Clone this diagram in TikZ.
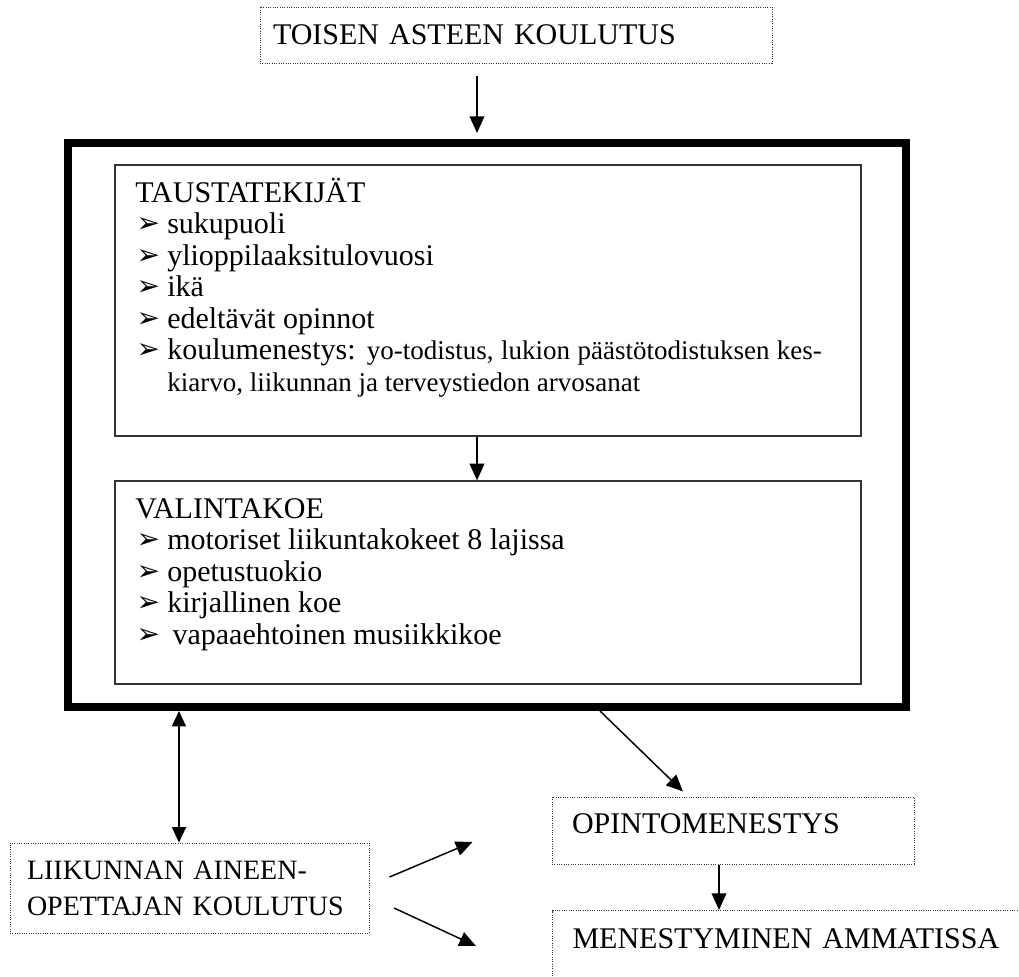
\documentclass[tikz,border=0pt]{standalone}
\usepackage{fontspec}
\setmainfont{Liberation Serif}
\newfontfamily\symfont{DejaVu Sans}
\usetikzlibrary{arrows.meta}
\newcommand\iso{\fontsize{22.5pt}{23.6pt}\selectfont}
\newcommand\pieni{\fontsize{20.25pt}{22pt}\selectfont}
\newcommand\nuoli{\makebox[24pt][l]{\hspace{1pt}\symfont\fontsize{21pt}{21pt}\selectfont\raisebox{0.5pt}{➢}}}

\begin{document}
\begin{tikzpicture}[
x=0.75pt, y=-0.75pt, % pikselit, y kasvaa alaspäin
every node/.style={font=\iso},
pistelaatikko/.style={draw=black!80, line width=0.75pt, dash pattern=on 0.75pt off 1pt, align=left, inner ysep=0pt},
laatikko/.style={draw=black!80, line width=0.9pt},
rivi/.style={anchor=base west, inner sep=0pt},
nuoli/.style={-{Triangle[width=11pt,length=12.5pt]}, line width=1.1pt},
kaksinuoli/.style={{Triangle[width=10.5pt,length=11.5pt]}-{Triangle[width=10.5pt,length=11.5pt]}, line width=1.1pt}
]
\useasboundingbox (0,0) rectangle (1019,976);
\clip (0,0) rectangle (1019,976);

% --- Ylälaatikko ---
\node[pistelaatikko, text width=364.5pt, inner xsep=9.75pt, minimum height=42pt] (toinen) at (516,35) {TOISEN ASTEEN KOULUTUS};

% --- Paksu kehys ja sisälaatikot ---
\node[draw, line width=6pt, minimum width=628.5pt, minimum height=423pt] (ulko) at (487,425) {};
\node[laatikko, minimum width=559.5pt, minimum height=203.25pt] (tausta) at (488,300.5) {};
\node[laatikko, minimum width=559.5pt, minimum height=152.25pt] (valinta) at (488,582.5) {};

% Taustatekijät
\node[rivi] (tausta-otsikko) at (135,202) {TAUSTATEKIJÄT};
\foreach \teksti [count=\i] in {sukupuoli, ylioppilaaksitulovuosi, ikä, edeltävät opinnot}
  \node[rivi] (tausta-\i) at (135,{202+31.5*\i}) {\nuoli\teksti};
\node[rivi] (tausta-5) at (135,359.5) {\nuoli\makebox[491pt][s]{koulumenestys: \pieni yo-todistus, lukion päästötodistuksen kes-}};
\node[rivi, font=\pieni] (tausta-6) at (167,391) {kiarvo, liikunnan ja terveystiedon arvosanat};

% Valintakoe
\node[rivi] (valinta-otsikko) at (135,518) {VALINTAKOE};
\foreach \teksti [count=\i] in {motoriset liikuntakokeet 8 lajissa, opetustuokio, kirjallinen koe, \hspace{4pt}vapaaehtoinen musiikkikoe}
  \node[rivi] (valinta-\i) at (135,{518+31.5*\i}) {\nuoli\teksti};

% --- Alalaatikot ---
\node[pistelaatikko, text width=243.75pt, inner xsep=12.75pt, minimum height=67.5pt, font={\fontsize{21pt}{27pt}\selectfont}] (liik) at (189.5,888) {\mbox{LIIKUNNAN AINEEN-}\\\mbox{OPETTAJAN KOULUTUS}};
\node[pistelaatikko, text width=241.5pt, inner xsep=15pt, minimum height=50.25pt, text depth=9.75pt] (opinto) at (733,830.5) {OPINTOMENESTYS};
\node[pistelaatikko, anchor=north west, text width=360pt, inner xsep=15pt, minimum height=67.5pt, text depth=25.5pt] (menest) at (552,910) {MENESTYMINEN AMMATISSA};

% --- Nuolet ---
\draw[nuoli, shorten <=9pt, shorten >=4.5pt] ([xshift=-29.25pt]toinen.south) -- ([xshift=-29.25pt]toinen.south |- ulko.north);
\draw[nuoli] ([xshift=-8.25pt]tausta.south) -- ([xshift=-8.25pt]tausta.south |- valinta.north);
\draw[kaksinuoli] ([xshift=-7.9pt]liik.north) -- ([xshift=-7.9pt]liik.north |- ulko.south);
\draw[nuoli] ([xshift=84.75pt]ulko.south) -- ([xshift=-37.5pt,yshift=3.75pt]opinto.north);
\draw[nuoli] ([xshift=-10.5pt]opinto.south) -- ([xshift=-10.5pt]opinto.south |- menest.north);
\draw[nuoli] ([xshift=15pt,yshift=8.25pt]liik.east) -- ([xshift=-59.25pt,yshift=-8.6pt]opinto.west);
\draw[nuoli] ([xshift=18.4pt,yshift=-15pt]liik.east) -- ([xshift=-57pt,yshift=-27pt]menest.north west);

\end{tikzpicture}
\end{document}
